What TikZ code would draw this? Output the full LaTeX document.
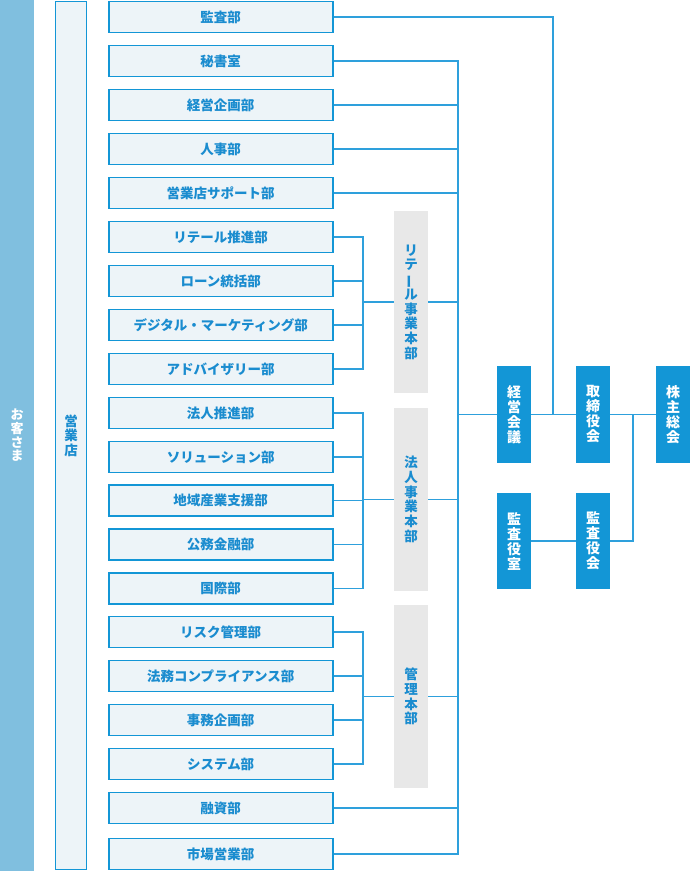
\documentclass[tikz,border=0pt]{standalone}
\usepackage{fontspec}
\newfontfamily\jp{Noto Sans CJK JP}
\definecolor{lineblue}{HTML}{2EA0DC}
\definecolor{boxblue}{HTML}{1396D6}
\definecolor{txtblue}{HTML}{1A8CCF}
\definecolor{pale}{HTML}{EDF4F8}
\definecolor{band}{HTML}{80BFDF}
\definecolor{grp}{HTML}{E8E8E8}
\newcommand{\vbar}{\rotatebox[origin=c]{90}{ー}}
\tikzset{
  dept/.style={draw=boxblue, line width=1.8pt, fill=pale, minimum width=224pt, minimum height=31pt, inner sep=0pt,
    text=txtblue, font=\jp\bfseries\fontsize{13.5}{15}\selectfont},
  grpbox/.style={fill=grp, minimum width=34pt, inner sep=0pt, text=txtblue, align=center,
    font=\jp\bfseries\fontsize{13.5}{14.7}\selectfont},
  topbox/.style={fill=boxblue, minimum width=34pt, minimum height=97pt, inner sep=0pt, text=white, align=center,
    font=\jp\bfseries\fontsize{14}{15}\selectfont},
  conn/.style={draw=lineblue, line width=1.3pt},
}
\begin{document}
\begin{tikzpicture}[x=1pt,y=-1pt]
\useasboundingbox (0,0) rectangle (690,871);
% left band and store column
\node[fill=band, minimum width=34pt, minimum height=871pt, inner sep=0pt, text=white, align=center,
  font=\jp\bfseries\fontsize{13}{13.7}\selectfont] (cust) at (17,435.5) {お\\客\\さ\\ま};
\node[draw=boxblue, line width=1.8pt, fill=pale, minimum width=31pt, minimum height=868pt, inner sep=0pt,
  text=txtblue, align=center, font=\jp\bfseries\fontsize{13.5}{14.5}\selectfont] (store) at (71,435.5) {営\\業\\店};
% departments
\node[dept] (d1) at (220.7,17) {監査部};
\node[dept] (d2) at (220.7,61) {秘書室};
\node[dept] (d3) at (220.7,105) {経営企画部};
\node[dept] (d4) at (220.7,149) {人事部};
\node[dept] (d5) at (220.7,193) {営業店サポート部};
\node[dept] (d6) at (220.7,237) {リテール推進部};
\node[dept] (d7) at (220.7,281) {ローン統括部};
\node[dept] (d8) at (220.7,325) {デジタル・マーケティング部};
\node[dept] (d9) at (220.7,369) {アドバイザリー部};
\node[dept] (d10) at (220.7,413) {法人推進部};
\node[dept] (d11) at (220.7,457) {ソリューション部};
\node[dept] (d12) at (220.7,500.5) {地域産業支援部};
\node[dept] (d13) at (220.7,544.5) {公務金融部};
\node[dept] (d14) at (220.7,588.5) {国際部};
\node[dept] (d15) at (220.7,632) {リスク管理部};
\node[dept] (d16) at (220.7,676) {法務コンプライアンス部};
\node[dept] (d17) at (220.7,720) {事務企画部};
\node[dept] (d18) at (220.7,764) {システム部};
\node[dept] (d19) at (220.7,808) {融資部};
\node[dept] (d20) at (220.7,854) {市場営業部};
% group boxes
\node[grpbox, minimum height=182pt] (g1) at (411,302) {リ\\テ\\\vbar\\ル\\事\\業\\本\\部};
\node[grpbox, minimum height=183pt] (g2) at (411,499.5) {法\\人\\事\\業\\本\\部};
\node[grpbox, minimum height=183pt] (g3) at (411,696.5) {管\\理\\本\\部};
% top boxes
\node[topbox] (kei) at (514,414.5) {経\\営\\会\\議};
\node[topbox] (tori) at (593,414.5) {取\\締\\役\\会};
\node[topbox, minimum width=34pt] (kabu) at (673,414.5) {株\\主\\総\\会};
\node[topbox, minimum height=96pt] (kshitsu) at (514,541) {監\\査\\役\\室};
\node[topbox, minimum height=96pt] (kyaku) at (593,541) {監\\査\\役\\会};
% junction coordinates
\coordinate (trunk) at (458,0);
\coordinate (bx) at (363,0);
\coordinate (j1) at (553,0);
\coordinate (j2) at (633,0);
% trunk
\draw[conn] (d2.east) -- (d2.east -| trunk) -- (d20.east -| trunk) -- (d20.east);
\foreach \d in {d3,d4,d5,d19}{\draw[conn] (\d.east) -- (\d.east -| trunk);}
% brackets
\draw[conn] (d6.east) -- (d6.east -| bx) -- (d9.east -| bx) -- (d9.east);
\foreach \d in {d7,d8}{\draw[conn] (\d.east) -- (\d.east -| bx);}
\draw[conn] (d10.east) -- (d10.east -| bx) -- (d14.east -| bx) -- (d14.east);
\foreach \d in {d11,d12,d13}{\draw[conn] (\d.east) -- (\d.east -| bx);}
\draw[conn] (d15.east) -- (d15.east -| bx) -- (d18.east -| bx) -- (d18.east);
\foreach \d in {d16,d17}{\draw[conn] (\d.east) -- (\d.east -| bx);}
\foreach \g in {g1,g2,g3}{
  \draw[conn] (\g.west) -- (\g.west -| bx);
  \draw[conn] (\g.east) -- (\g.east -| trunk);}
% upper structure
\draw[conn] (kei.west) -- (kei.west -| trunk);
\draw[conn] (d1.east) -- (d1.east -| j1) -- (kei.east -| j1);
\draw[conn] (kei.east) -- (tori.west);
\draw[conn] (tori.east) -- (kabu.west);
\draw[conn] (kshitsu.east) -- (kyaku.west);
\draw[conn] (kyaku.east) -- (kyaku.east -| j2) -- (tori.east -| j2);
\end{tikzpicture}
\end{document}
